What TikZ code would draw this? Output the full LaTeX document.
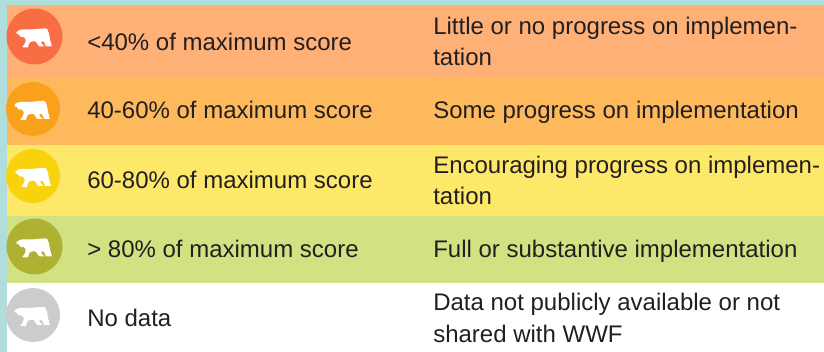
\documentclass[tikz,border=0pt]{standalone}
\usepackage{fontspec}
\setmainfont{Liberation Sans}
\definecolor{frame}{HTML}{B0DEDC}
\definecolor{rowA}{HTML}{FFB077}
\definecolor{rowB}{HTML}{FEB95C}
\definecolor{rowC}{HTML}{FDE86A}
\definecolor{rowD}{HTML}{D2E182}
\definecolor{dotA}{HTML}{F96D45}
\definecolor{dotB}{HTML}{F9A11B}
\definecolor{dotC}{HTML}{F9D20E}
\definecolor{dotD}{HTML}{AFB132}
\definecolor{dotE}{HTML}{CCCCCC}
\definecolor{ink}{HTML}{231F20}
\tikzset{
  x=0.75pt,y=-0.75pt,
  label/.style={anchor=base west,inner sep=0pt,text=ink,font=\fontsize{18pt}{24pt}\selectfont},
  bear/.pic={
    \fill[white,rounded corners=0.6pt]
      (-17,-6) -- (-13,-8) -- (-9,-8) -- (-2,-8) -- (8,-9) -- (13,-9) -- (15,-4) -- (16,2)
      -- (18,9) -- (12,9) -- (10,4) -- (7,4) -- (8,7) -- (11,9) -- (5,9)
      -- (2,4) -- (-3,4) -- (-5,6) -- (-6,10) -- (-12,10) -- (-9,6) -- (-8,2)
      -- (-11,-1) -- (-13,0) -- (-15,-3) -- (-18,-4) -- cycle;
  }
}
\begin{document}
\begin{tikzpicture}
\useasboundingbox (0,0) rectangle (824,352);
\fill[frame] (0,0) rectangle (824,352);
\fill[rowA] (7,5) rectangle (824,77);
\fill[rowB] (7,77) rectangle (824,145);
\fill[rowC] (7,145) rectangle (824,216);
\fill[rowD] (7,216) rectangle (824,283);
\fill[white] (7,283) rectangle (824,352);
\fill[dotA] (34.5,36.5) circle (28);
\fill[dotB] (33,109) circle (27);
\fill[dotC] (33,176) circle (27);
\fill[dotD] (34.5,246.5) circle (28);
\fill[dotE] (33,315) circle (27);
\pic at (34,37.5) {bear};
\pic at (32,110) {bear};
\pic at (33,177) {bear};
\pic at (34,247.5) {bear};
\pic at (32,316) {bear};
\node[label] (a1) at (87,50.5) {<40\% of maximum score};
\node[label] (a2) at (433,35) {Little or no progress on implemen-};
\node[label] (a3) at (433,66) {tation};
\node[label] (b1) at (87,119) {40-60\% of maximum score};
\node[label] (b2) at (433,119) {Some progress on implementation};
\node[label] (c1) at (87,189) {60-80\% of maximum score};
\node[label] (c2) at (433,174) {Encouraging progress on implemen-};
\node[label] (c3) at (433,205) {tation};
\node[label] (d1) at (87,258) {> 80\% of maximum score};
\node[label] (d2) at (433,258) {Full or substantive implementation};
\node[label] (e1) at (87,327) {No data};
\node[label] (e2) at (433,311) {Data not publicly available or not};
\node[label] (e3) at (433,343) {shared with WWF};
\end{tikzpicture}
\end{document}
